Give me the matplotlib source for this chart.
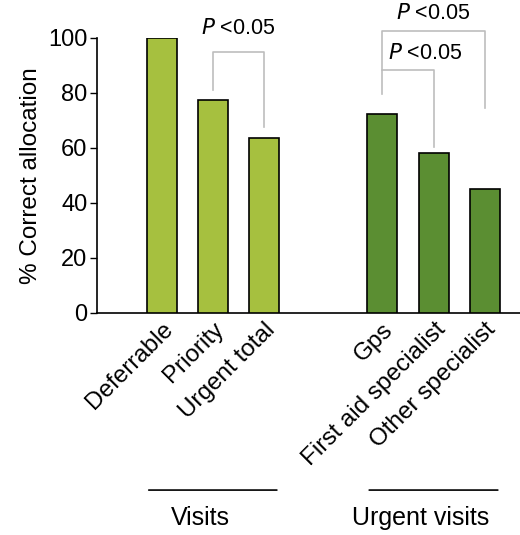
import numpy as np
import matplotlib
matplotlib.use("Agg")
import matplotlib.pyplot as plt

plt.rcParams["font.family"] = ["Liberation Sans", "DejaVu Sans"]

# data
categories = ["Deferrable", "Priority", "Urgent total",
              "Gps", "First aid specialist", "Other specialist"]
values = [100, 77.5, 63.6, 72.3, 58.3, 45.0]
groups = ["Visits", "Urgent visits"]
group_members = [[0, 1, 2], [3, 4, 5]]
y_ticks = [0, 20, 40, 60, 80, 100]

light = "#a6c03f"
dark = "#5b8e32"
bar_colors = [light, light, light, dark, dark, dark]
x = np.array([0, 1, 2, 4.32, 5.34, 6.33])

fig = plt.figure(figsize=(5.2, 5.35), dpi=100)
ax = fig.add_axes([0.1865, 0.415, 0.8135, 0.514])

ax.bar(x, values, width=0.59, color=bar_colors, edgecolor="black", linewidth=1.2, zorder=3)
ax.set_xlim(-1.27, 7.02)
ax.set_ylim(0, 100)
ax.set_yticks(y_ticks)
ax.tick_params(axis="y", labelsize=17, length=5, width=1, pad=2)
ax.tick_params(axis="x", length=0)
for s in ["top", "right"]:
    ax.spines[s].set_visible(False)
ax.spines["left"].set_linewidth(1.2)
ax.spines["bottom"].set_linewidth(1.2)
ax.set_ylabel("% Correct allocation", fontsize=17.5, labelpad=4)

ax.set_xticks(x)
ax.set_xticklabels(categories, rotation=45, ha="right", rotation_mode="anchor", fontsize=17.5)
ax.tick_params(axis="x", pad=4)

# significance brackets
gray = "#bdbdbd"
def bracket(x1, x2, y, y1, y2, ty, tx=None):
    ax.plot([x1, x1, x2, x2], [y1, y, y, y2], color=gray, lw=1.2, clip_on=False)
    if tx is None:
        tx = (x1 + x2) / 2
    ax.text(tx, ty, r"$\it{P}$ <0.05", ha="center", va="center", fontsize=15.5, clip_on=False)

bracket(x[1], x[2], 94.9, 81.1, 67.6, 103.5)
bracket(x[3], x[5], 102.6, 88.4, 74.5, 109.0, tx=x[4] - 0.02)
bracket(x[3], x[4], 88.4, 79.6, 60.4, 94.3, tx=x[4] - 0.17)

# group lines
for name, members in zip(groups, group_members):
    x0 = x[members[0]] - 0.31
    x1 = x[members[-1]] + 0.31
    ax.annotate("", xy=(x0, -0.644), xytext=(x1, -0.644),
                xycoords=("data", "axes fraction"),
                arrowprops=dict(arrowstyle="-", color="black", lw=1.2))
    ax.annotate(name, xy=((x0 + x1) / 2, -0.745), xycoords=("data", "axes fraction"),
                xytext=(-9, 0), textcoords="offset points",
                ha="center", va="center", fontsize=18)

fig.savefig("out.png", dpi=100)
